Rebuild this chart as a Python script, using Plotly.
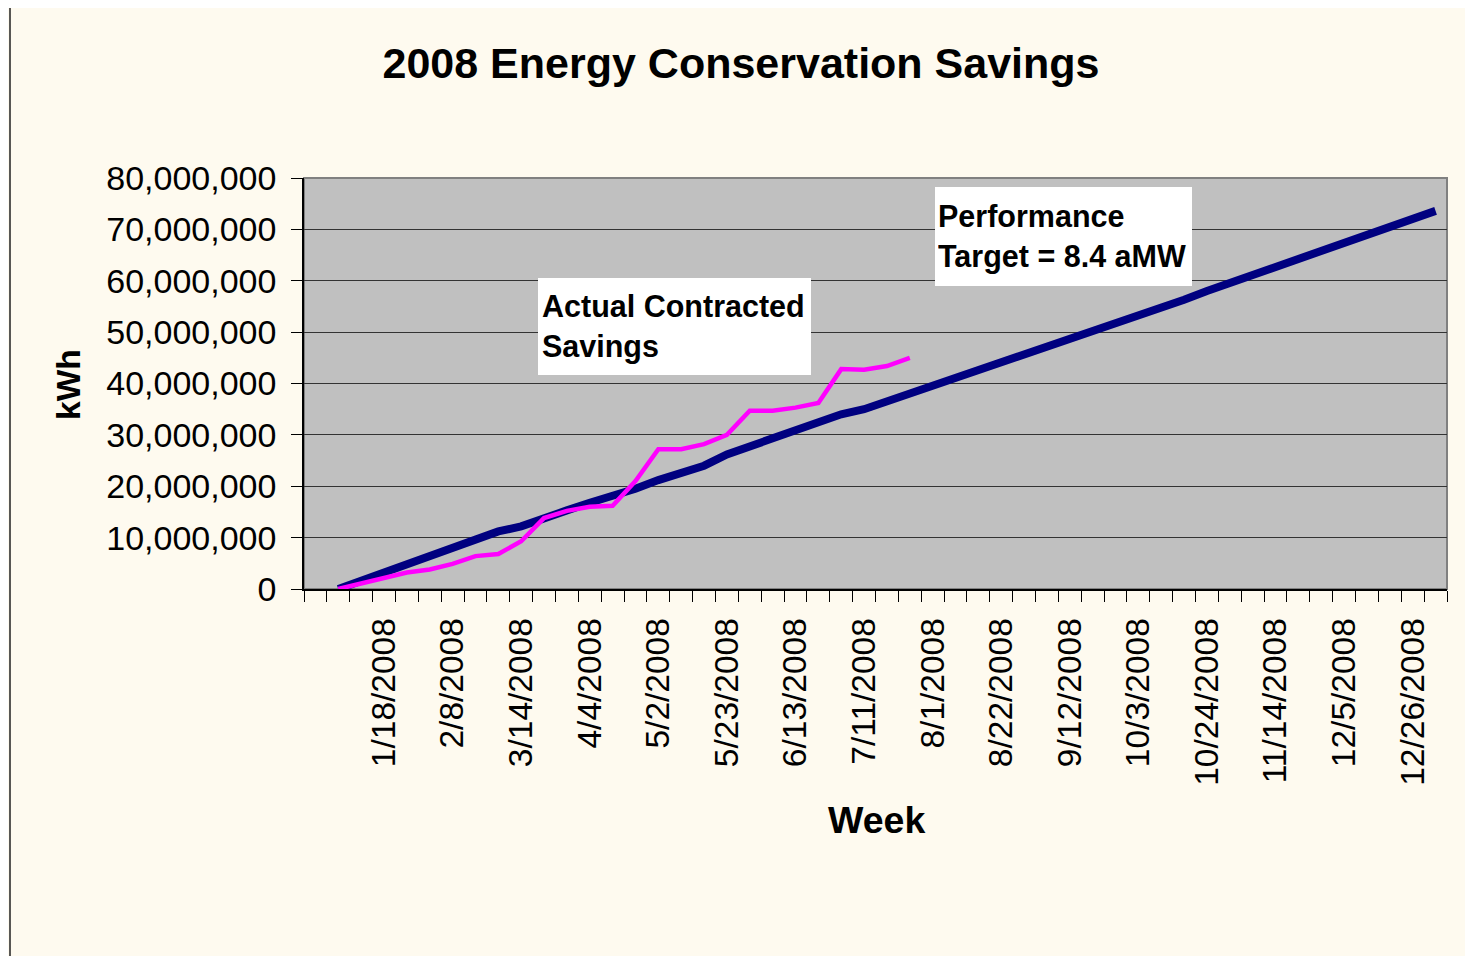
import plotly.graph_objects as go

# ---- data ----
weeks = [
    "12/28/2007", "1/4/2008", "1/11/2008", "1/18/2008", "1/25/2008", "2/1/2008", "2/8/2008",
    "2/22/2008", "3/7/2008", "3/14/2008", "3/21/2008", "3/28/2008", "4/4/2008", "4/18/2008",
    "4/25/2008", "5/2/2008", "5/9/2008", "5/16/2008", "5/23/2008", "5/30/2008", "6/6/2008",
    "6/13/2008", "6/20/2008", "6/27/2008", "7/11/2008", "7/18/2008", "7/25/2008", "8/1/2008",
    "8/8/2008", "8/15/2008", "8/22/2008", "8/29/2008", "9/5/2008", "9/12/2008", "9/19/2008",
    "9/26/2008", "10/3/2008", "10/10/2008", "10/17/2008", "10/24/2008", "10/31/2008",
    "11/7/2008", "11/14/2008", "11/21/2008", "11/28/2008", "12/5/2008", "12/12/2008",
    "12/19/2008", "12/26/2008", "1/2/2009",
]

# Performance target (million kWh), one per week
target_m = [
    None, 0, 1.6, 3.2, 4.8, 6.4, 8.0, 9.6, 11.2, 12.2, 13.9, 15.3, 16.8, 18.0, 19.5,
    21.2, 22.6, 24.0, 26.2, 27.8, 29.3, 30.9, 32.4, 34.0, 35.0, 36.5, 38.1, 39.7,
    41.1, 42.6, 44.0, 45.5, 47.0, 48.5, 50.1, 51.8, 53.3, 54.8, 56.3, 58.0, 59.6,
    61.2, 62.7, 64.0, 65.6, 67.2, 68.9, 70.4, 72.0, 73.6,
]

# Actual contracted savings (million kWh)
actual_m = [
    None, 0, 1.1, 2.2, 3.2, 3.8, 4.9, 6.4, 6.8, 9.3, 13.8, 15.2, 16.0, 16.2, 21.0,
    27.2, 27.2, 28.2, 30.0, 34.7, 34.7, 35.3, 36.2, 42.8, 42.7, 43.4, 45.0,
]

label_weeks = ["1/18/2008", "2/8/2008", "3/14/2008", "4/4/2008", "5/2/2008", "5/23/2008",
               "6/13/2008", "7/11/2008", "8/1/2008", "8/22/2008", "9/12/2008", "10/3/2008",
               "10/24/2008", "11/14/2008", "12/5/2008", "12/26/2008"]

y_ticks = [0, 10000000, 20000000, 30000000, 40000000, 50000000, 60000000, 70000000, 80000000]

target = [None if v is None else v * 1e6 for v in target_m]
actual = [None if v is None else v * 1e6 for v in actual_m]

# ---- layout geometry (pixels, in screenshot coords; page body has 8px offset) ----
OFF = 8
W, H = 1473 - OFF, 956 - OFF
L, R, T, B = 304, 1447, 178, 589
pw, ph = R - L, B - T


def px(x):
    return (x - L) / pw


def py(y):
    return (B - y) / ph


FONT = "Liberation Sans, Arial, sans-serif"

fig = go.Figure()
fig.add_trace(go.Scatter(x=weeks, y=target, mode="lines",
                         line=dict(color="#000080", width=8), name="Performance Target",
                         hoverinfo="x+y"))
fig.add_trace(go.Scatter(x=weeks[:len(actual)], y=actual, mode="lines",
                         line=dict(color="#FF00FF", width=4.5), name="Actual Contracted Savings",
                         hoverinfo="x+y"))

ticktext = [w if w in label_weeks else "" for w in weeks]

fig.update_layout(
    width=W, height=H,
    margin=dict(l=L - OFF, r=W - (R - OFF), t=T - OFF, b=H - (B - OFF)),
    paper_bgcolor="#FEFAEF",
    plot_bgcolor="#C0C0C0",
    showlegend=False,
    font=dict(family=FONT, color="black"),
    title=dict(text="<b>2008 Energy Conservation Savings</b>",
               font=dict(size=43, family=FONT, color="black"),
               x=(741 - OFF) / W, xref="container", xanchor="center",
               y=1 - (63 - OFF) / H, yref="container", yanchor="middle"),
    xaxis=dict(
        type="category",
        categoryorder="array", categoryarray=weeks,
        range=[-0.5, len(weeks) - 0.5],
        tickmode="array", tickvals=weeks, ticktext=ticktext,
        tickson="boundaries",
        ticks="outside", ticklen=11, tickwidth=1.2, tickcolor="black",
        tickangle=-90,
        ticklabelstandoff=14,
        tickfont=dict(size=33.5, family=FONT, color="black"),
        showgrid=False,
        showline=True, linecolor="black", linewidth=1.5,
        zeroline=False,
    ),
    yaxis=dict(
        range=[0, 80000000],
        tickmode="array", tickvals=y_ticks,
        tickformat=",",
        ticks="outside", ticklen=11, tickwidth=1.2, tickcolor="black",
        tickfont=dict(size=34, family=FONT, color="black"),
        ticklabelstandoff=8,
        showgrid=True, gridcolor="#333333", gridwidth=1.3,
        showline=True, linecolor="black", linewidth=1.5,
        zeroline=False,
    ),
    shapes=[
        # outer chart border
        dict(type="rect", xref="paper", yref="paper",
             x0=px(10), x1=px(1470), y0=py(1000), y1=py(7),
             line=dict(color="#222222", width=1.5), fillcolor="rgba(0,0,0,0)", layer="below"),
        # plot area border
        dict(type="rect", xref="paper", yref="paper", x0=0, x1=1, y0=0, y1=1,
             line=dict(color="#808080", width=2), fillcolor="rgba(0,0,0,0)", layer="below"),
    ],
    annotations=[
        dict(text="<b>kWh</b>", xref="paper", yref="paper", x=px(68), y=py(385),
             textangle=-90, showarrow=False, xanchor="center", yanchor="middle",
             font=dict(size=33.5, family=FONT, color="black")),
        dict(text="<b>Week</b>", xref="paper", yref="paper", x=px(876), y=py(820),
             showarrow=False, xanchor="center", yanchor="middle",
             font=dict(size=37.5, family=FONT, color="black")),
        dict(text="<b>Actual Contracted<br>Savings</b>", xref="paper", yref="paper",
             x=px(538), y=py(278), xanchor="left", yanchor="top",
             width=265, height=89, borderpad=4, borderwidth=0,
             align="left", valign="middle", bgcolor="white", showarrow=False,
             font=dict(size=30.5, family=FONT, color="black")),
        dict(text="<b>Performance<br>Target = 8.4 aMW</b>", xref="paper", yref="paper",
             x=px(935), y=py(187), xanchor="left", yanchor="top",
             width=251, height=93, borderpad=3, borderwidth=0,
             align="left", valign="middle", bgcolor="white", showarrow=False,
             font=dict(size=30.5, family=FONT, color="black")),
    ],
)

fig.write_html("out.html")
